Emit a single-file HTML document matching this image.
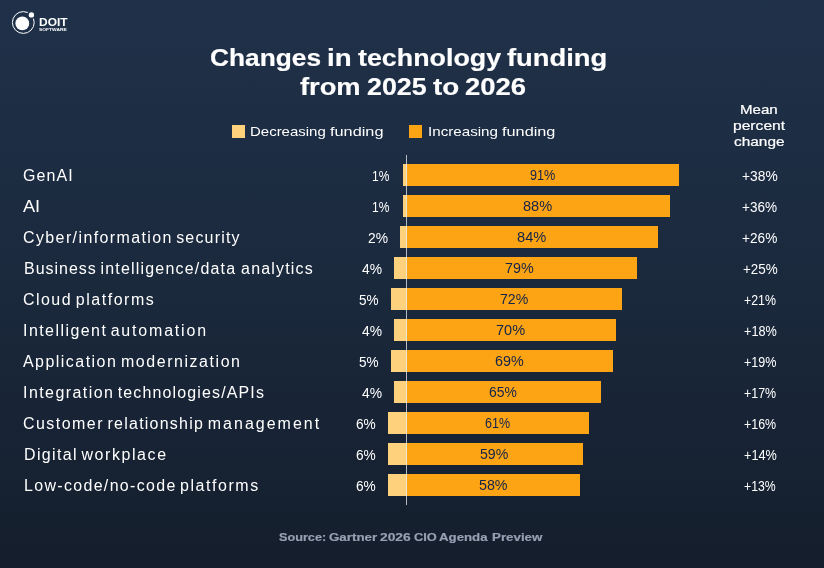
<!DOCTYPE html>
<html><head><meta charset="utf-8"><title>Changes in technology funding from 2025 to 2026</title>
<style>
*{margin:0;padding:0;box-sizing:border-box}
html,body{width:824px;height:568px;overflow:hidden}
body{position:relative;background:linear-gradient(180deg,#1f3149 0%,#1b293d 50%,#141e2c 100%);font-family:"Liberation Sans",sans-serif;color:#fff}
.t{position:absolute;white-space:nowrap;will-change:transform}
.w{display:inline-block}
.g{display:inline-block;transform-origin:0 0}

.b{position:absolute;height:22px}
.sw{position:absolute;top:125px;width:13px;height:13px}
.axis{position:absolute;left:406px;top:155px;width:1px;height:350px;background:rgba(232,234,238,0.76)}
</style></head><body>
<svg style="position:absolute;left:0;top:0" width="40" height="40" viewBox="0 0 40 40">
<circle cx="23.3" cy="22.5" r="10.9" fill="none" stroke="#fff" stroke-width="1"/>
<circle cx="22.3" cy="23.4" r="6.9" fill="#fff"/>
<circle cx="31.4" cy="14.9" r="3.3" fill="#fff" stroke="#1f3048" stroke-width="1.2"/>
</svg>
<div class="sw" style="left:232px;background:#fed27c"></div>
<div class="sw" style="left:409px;background:#fda414"></div>
<div class="b" style="top:164px;left:403px;width:4px;background:#fed27c"></div>
<div class="b" style="top:164px;left:407px;width:272.2px;background:#fda414"></div>
<div class="b" style="top:195px;left:403px;width:4px;background:#fed27c"></div>
<div class="b" style="top:195px;left:407px;width:263.4px;background:#fda414"></div>
<div class="b" style="top:226px;left:400px;width:7px;background:#fed27c"></div>
<div class="b" style="top:226px;left:407px;width:251.0px;background:#fda414"></div>
<div class="b" style="top:257px;left:394px;width:13px;background:#fed27c"></div>
<div class="b" style="top:257px;left:407px;width:230.1px;background:#fda414"></div>
<div class="b" style="top:288px;left:391px;width:16px;background:#fed27c"></div>
<div class="b" style="top:288px;left:407px;width:215.2px;background:#fda414"></div>
<div class="b" style="top:319px;left:394px;width:13px;background:#fed27c"></div>
<div class="b" style="top:319px;left:407px;width:209.2px;background:#fda414"></div>
<div class="b" style="top:350px;left:391px;width:16px;background:#fed27c"></div>
<div class="b" style="top:350px;left:407px;width:206.0px;background:#fda414"></div>
<div class="b" style="top:381px;left:394px;width:13px;background:#fed27c"></div>
<div class="b" style="top:381px;left:407px;width:194.1px;background:#fda414"></div>
<div class="b" style="top:412px;left:388px;width:19px;background:#fed27c"></div>
<div class="b" style="top:412px;left:407px;width:182.0px;background:#fda414"></div>
<div class="b" style="top:443px;left:388px;width:19px;background:#fed27c"></div>
<div class="b" style="top:443px;left:407px;width:175.8px;background:#fda414"></div>
<div class="b" style="top:474px;left:388px;width:19px;background:#fed27c"></div>
<div class="b" style="top:474px;left:407px;width:173.0px;background:#fda414"></div>
<div class="axis"></div>
<div class="t" style="left:38.64px;top:15.00px;font-size:11px;line-height:14px;font-weight:700;color:#fff"><span class="g" style="transform:scaleX(1.0863)">DOIT</span></div>
<div class="t" style="left:39.28px;top:27.00px;font-size:4.2px;line-height:5px;font-weight:700;color:#fff"><span class="g" style="transform:scaleX(1.1702)">SOFTWARE</span></div>
<div class="t" style="left:209.60px;top:43.00px;font-size:23.52px;line-height:31px;font-weight:700;color:#fff;-webkit-text-stroke:0.18px #fff;word-spacing:-6.535px"><span class="w" style="width:116.68px"><span class="g" style="transform:scaleX(1.1183)">Changes</span></span> <span class="w" style="width:31.22px"><span class="g" style="transform:scaleX(1.1765)">in</span></span> <span class="w" style="width:149.33px"><span class="g" style="transform:scaleX(1.1407)">technology</span></span> <span class="w" style=""><span class="g" style="transform:scaleX(1.1639)">funding</span></span></div>
<div class="t" style="left:299.56px;top:72.00px;font-size:23.52px;line-height:31px;font-weight:700;color:#fff;-webkit-text-stroke:0.18px #fff;word-spacing:-6.535px"><span class="w" style="width:66.50px"><span class="g" style="transform:scaleX(1.1597)">from</span></span> <span class="w" style="width:66.19px"><span class="g" style="transform:scaleX(1.1404)">2025</span></span> <span class="w" style="width:31.84px"><span class="g" style="transform:scaleX(1.1799)">to</span></span> <span class="w" style=""><span class="g" style="transform:scaleX(1.1666)">2026</span></span></div>
<div class="t" style="left:249.95px;top:123.00px;font-size:12.74px;line-height:17px;font-weight:400;color:#fff;word-spacing:-3.540px"><span class="w" style="width:79.64px"><span class="g" style="transform:scaleX(1.1758)">Decreasing</span></span> <span class="w" style=""><span class="g" style="transform:scaleX(1.2794)">funding</span></span></div>
<div class="t" style="left:427.62px;top:123.00px;font-size:12.74px;line-height:17px;font-weight:400;color:#fff;word-spacing:-3.540px"><span class="w" style="width:73.80px"><span class="g" style="transform:scaleX(1.1910)">Increasing</span></span> <span class="w" style=""><span class="g" style="transform:scaleX(1.2785)">funding</span></span></div>
<div class="t" style="left:740.35px;top:101.00px;font-size:12.74px;line-height:17px;font-weight:400;color:#fff;-webkit-text-stroke:0.2px #fff"><span class="g" style="transform:scaleX(1.1833)">Mean</span></div>
<div class="t" style="left:732.95px;top:117.00px;font-size:12.74px;line-height:17px;font-weight:400;color:#fff;-webkit-text-stroke:0.2px #fff"><span class="g" style="transform:scaleX(1.2265)">percent</span></div>
<div class="t" style="left:734.12px;top:133.00px;font-size:12.74px;line-height:17px;font-weight:400;color:#fff;-webkit-text-stroke:0.2px #fff"><span class="g" style="transform:scaleX(1.2088)">change</span></div>
<div class="t" style="left:22.97px;top:165.00px;font-size:15.97px;line-height:21px;font-weight:400;color:#fff"><span class="g" style="transform:scaleX(1.0000);letter-spacing:1.125px">GenAI</span></div>
<div class="t" style="left:371.85px;top:167.00px;font-size:14px;line-height:18px;font-weight:400;color:#fff"><span class="g" style="transform:scaleX(0.8602)">1%</span></div>
<div class="t" style="left:529.57px;top:166.00px;font-size:14px;line-height:18px;font-weight:400;color:#13234a"><span class="g" style="transform:scaleX(0.9030)">91%</span></div>
<div class="t" style="left:742.06px;top:167.00px;font-size:14px;line-height:18px;font-weight:400;color:#fff"><span class="g" style="transform:scaleX(0.9857)">+38%</span></div>
<div class="t" style="left:22.99px;top:196.00px;font-size:16.3px;line-height:21px;font-weight:400;color:#fff"><span class="g" style="transform:scaleX(1.1159)">AI</span></div>
<div class="t" style="left:371.85px;top:198.00px;font-size:14px;line-height:18px;font-weight:400;color:#fff"><span class="g" style="transform:scaleX(0.8602)">1%</span></div>
<div class="t" style="left:522.78px;top:197.00px;font-size:14px;line-height:18px;font-weight:400;color:#13234a"><span class="g" style="transform:scaleX(1.0409)">88%</span></div>
<div class="t" style="left:742.37px;top:198.00px;font-size:14px;line-height:18px;font-weight:400;color:#fff"><span class="g" style="transform:scaleX(0.9686)">+36%</span></div>
<div class="t" style="left:22.97px;top:227.00px;font-size:15.97px;line-height:21px;font-weight:400;color:#fff;word-spacing:-4.437px"><span class="w" style="width:153.20px"><span class="g" style="transform:scaleX(1.0000);letter-spacing:1.404px">Cyber/information</span></span> <span class="w" style=""><span class="g" style="transform:scaleX(1.0000);letter-spacing:1.194px">security</span></span></div>
<div class="t" style="left:367.71px;top:229.00px;font-size:14px;line-height:18px;font-weight:400;color:#fff"><span class="g" style="transform:scaleX(0.9895)">2%</span></div>
<div class="t" style="left:517.32px;top:228.00px;font-size:14px;line-height:18px;font-weight:400;color:#13234a"><span class="g" style="transform:scaleX(1.0446)">84%</span></div>
<div class="t" style="left:742.27px;top:229.00px;font-size:14px;line-height:18px;font-weight:400;color:#fff"><span class="g" style="transform:scaleX(0.9743)">+26%</span></div>
<div class="t" style="left:23.57px;top:258.00px;font-size:15.97px;line-height:21px;font-weight:400;color:#fff;word-spacing:-4.437px"><span class="w" style="width:76.45px"><span class="g" style="transform:scaleX(1.0000);letter-spacing:1.003px">Business</span></span> <span class="w" style="width:140.67px"><span class="g" style="transform:scaleX(1.0000);letter-spacing:1.203px">intelligence/data</span></span> <span class="w" style=""><span class="g" style="transform:scaleX(1.0000);letter-spacing:1.178px">analytics</span></span></div>
<div class="t" style="left:361.90px;top:260.00px;font-size:14px;line-height:18px;font-weight:400;color:#fff"><span class="g" style="transform:scaleX(0.9897)">4%</span></div>
<div class="t" style="left:504.68px;top:259.00px;font-size:14px;line-height:18px;font-weight:400;color:#13234a"><span class="g" style="transform:scaleX(1.0224)">79%</span></div>
<div class="t" style="left:742.53px;top:260.00px;font-size:14px;line-height:18px;font-weight:400;color:#fff"><span class="g" style="transform:scaleX(0.9600)">+25%</span></div>
<div class="t" style="left:22.97px;top:289.00px;font-size:15.97px;line-height:21px;font-weight:400;color:#fff;word-spacing:-4.437px"><span class="w" style="width:52.79px"><span class="g" style="transform:scaleX(1.0000);letter-spacing:1.447px">Cloud</span></span> <span class="w" style=""><span class="g" style="transform:scaleX(1.0000);letter-spacing:1.543px">platforms</span></span></div>
<div class="t" style="left:358.97px;top:291.00px;font-size:14px;line-height:18px;font-weight:400;color:#fff"><span class="g" style="transform:scaleX(0.9686)">5%</span></div>
<div class="t" style="left:499.59px;top:290.00px;font-size:14px;line-height:18px;font-weight:400;color:#13234a"><span class="g" style="transform:scaleX(1.0075)">72%</span></div>
<div class="t" style="left:743.93px;top:291.00px;font-size:14px;line-height:18px;font-weight:400;color:#fff"><span class="g" style="transform:scaleX(0.8829)">+21%</span></div>
<div class="t" style="left:23.47px;top:320.00px;font-size:15.97px;line-height:21px;font-weight:400;color:#fff;word-spacing:-4.437px"><span class="w" style="width:87.68px"><span class="g" style="transform:scaleX(1.0000);letter-spacing:1.452px">Intelligent</span></span> <span class="w" style=""><span class="g" style="transform:scaleX(1.0000);letter-spacing:1.821px">automation</span></span></div>
<div class="t" style="left:361.90px;top:322.00px;font-size:14px;line-height:18px;font-weight:400;color:#fff"><span class="g" style="transform:scaleX(0.9897)">4%</span></div>
<div class="t" style="left:496.27px;top:321.00px;font-size:14px;line-height:18px;font-weight:400;color:#13234a"><span class="g" style="transform:scaleX(1.0373)">70%</span></div>
<div class="t" style="left:743.52px;top:322.00px;font-size:14px;line-height:18px;font-weight:400;color:#fff"><span class="g" style="transform:scaleX(0.9057)">+18%</span></div>
<div class="t" style="left:23.07px;top:351.00px;font-size:15.97px;line-height:21px;font-weight:400;color:#fff;word-spacing:-4.437px"><span class="w" style="width:98.00px"><span class="g" style="transform:scaleX(1.0000);letter-spacing:1.466px">Application</span></span> <span class="w" style=""><span class="g" style="transform:scaleX(1.0000);letter-spacing:1.556px">modernization</span></span></div>
<div class="t" style="left:358.97px;top:353.00px;font-size:14px;line-height:18px;font-weight:400;color:#fff"><span class="g" style="transform:scaleX(0.9686)">5%</span></div>
<div class="t" style="left:494.88px;top:352.00px;font-size:14px;line-height:18px;font-weight:400;color:#13234a"><span class="g" style="transform:scaleX(1.0224)">69%</span></div>
<div class="t" style="left:743.67px;top:353.00px;font-size:14px;line-height:18px;font-weight:400;color:#fff"><span class="g" style="transform:scaleX(0.8971)">+19%</span></div>
<div class="t" style="left:23.47px;top:382.00px;font-size:15.97px;line-height:21px;font-weight:400;color:#fff;word-spacing:-4.437px"><span class="w" style="width:94.75px"><span class="g" style="transform:scaleX(1.0000);letter-spacing:1.449px">Integration</span></span> <span class="w" style=""><span class="g" style="transform:scaleX(1.0000);letter-spacing:1.145px">technologies/APIs</span></span></div>
<div class="t" style="left:361.90px;top:384.00px;font-size:14px;line-height:18px;font-weight:400;color:#fff"><span class="g" style="transform:scaleX(0.9897)">4%</span></div>
<div class="t" style="left:489.31px;top:383.00px;font-size:14px;line-height:18px;font-weight:400;color:#13234a"><span class="g" style="transform:scaleX(0.9925)">65%</span></div>
<div class="t" style="left:743.83px;top:384.00px;font-size:14px;line-height:18px;font-weight:400;color:#fff"><span class="g" style="transform:scaleX(0.8886)">+17%</span></div>
<div class="t" style="left:22.97px;top:413.00px;font-size:15.97px;line-height:21px;font-weight:400;color:#fff;word-spacing:-4.437px"><span class="w" style="width:84.54px"><span class="g" style="transform:scaleX(1.0000);letter-spacing:1.462px">Customer</span></span> <span class="w" style="width:100.25px"><span class="g" style="transform:scaleX(1.0000);letter-spacing:1.246px">relationship</span></span> <span class="w" style=""><span class="g" style="transform:scaleX(1.0000);letter-spacing:2.018px">management</span></span></div>
<div class="t" style="left:355.81px;top:415.00px;font-size:14px;line-height:18px;font-weight:400;color:#fff"><span class="g" style="transform:scaleX(0.9789)">6%</span></div>
<div class="t" style="left:484.83px;top:414.00px;font-size:14px;line-height:18px;font-weight:400;color:#13234a"><span class="g" style="transform:scaleX(0.8918)">61%</span></div>
<div class="t" style="left:743.83px;top:415.00px;font-size:14px;line-height:18px;font-weight:400;color:#fff"><span class="g" style="transform:scaleX(0.8886)">+16%</span></div>
<div class="t" style="left:23.57px;top:444.00px;font-size:15.97px;line-height:21px;font-weight:400;color:#fff;word-spacing:-4.437px"><span class="w" style="width:57.52px"><span class="g" style="transform:scaleX(1.0000);letter-spacing:1.363px">Digital</span></span> <span class="w" style=""><span class="g" style="transform:scaleX(1.0000);letter-spacing:1.575px">workplace</span></span></div>
<div class="t" style="left:355.81px;top:446.00px;font-size:14px;line-height:18px;font-weight:400;color:#fff"><span class="g" style="transform:scaleX(0.9789)">6%</span></div>
<div class="t" style="left:479.89px;top:445.00px;font-size:14px;line-height:18px;font-weight:400;color:#13234a"><span class="g" style="transform:scaleX(1.0112)">59%</span></div>
<div class="t" style="left:743.52px;top:446.00px;font-size:14px;line-height:18px;font-weight:400;color:#fff"><span class="g" style="transform:scaleX(0.9057)">+14%</span></div>
<div class="t" style="left:23.57px;top:475.00px;font-size:15.97px;line-height:21px;font-weight:400;color:#fff;word-spacing:-4.437px"><span class="w" style="width:156.08px"><span class="g" style="transform:scaleX(1.0000);letter-spacing:1.328px">Low-code/no-code</span></span> <span class="w" style=""><span class="g" style="transform:scaleX(1.0000);letter-spacing:1.550px">platforms</span></span></div>
<div class="t" style="left:355.81px;top:477.00px;font-size:14px;line-height:18px;font-weight:400;color:#fff"><span class="g" style="transform:scaleX(0.9789)">6%</span></div>
<div class="t" style="left:478.59px;top:476.00px;font-size:14px;line-height:18px;font-weight:400;color:#13234a"><span class="g" style="transform:scaleX(1.0186)">58%</span></div>
<div class="t" style="left:744.09px;top:477.00px;font-size:14px;line-height:18px;font-weight:400;color:#fff"><span class="g" style="transform:scaleX(0.8743)">+13%</span></div>
<div class="t" style="left:279.13px;top:529.00px;font-size:11.76px;line-height:15px;font-weight:700;color:#97a1b3;-webkit-text-stroke:0.2px #97a1b3;word-spacing:-3.267px"><span class="w" style="width:49.84px"><span class="g" style="transform:scaleX(1.0787)">Source:</span></span> <span class="w" style="width:51.11px"><span class="g" style="transform:scaleX(1.1346)">Gartner</span></span> <span class="w" style="width:33.79px"><span class="g" style="transform:scaleX(1.1721)">2026</span></span> <span class="w" style="width:25.61px"><span class="g" style="transform:scaleX(1.0883)">CIO</span></span> <span class="w" style="width:53.11px"><span class="g" style="transform:scaleX(1.1265)">Agenda</span></span> <span class="w" style=""><span class="g" style="transform:scaleX(1.1333)">Preview</span></span></div>
</body></html>
